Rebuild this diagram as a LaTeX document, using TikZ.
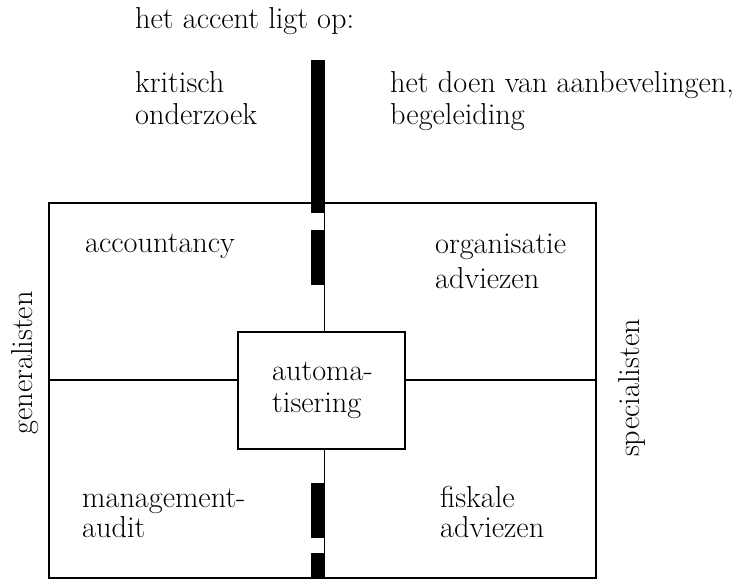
\documentclass[tikz,border=0pt]{standalone}
\newcommand{\lblfont}[1]{\fontsize{30.3}{#1}\selectfont}
\begin{document}
\begin{tikzpicture}[x=1pt,y=-1pt,
  lbl/.style={font=\lblfont{32}, inner sep=0pt, align=left, anchor=base west},
  side/.style={font=\lblfont{32}, inner sep=0pt, rotate=90},
  box/.style={draw, line width=1.3pt},
  thin/.style={line width=1pt},
  barseg/.style={fill=black, draw=none}]
\useasboundingbox (0,0) rectangle (741,580);
% outer frame
\draw[box] (49,203) rectangle (596,578);
\node[box, minimum width=167pt, minimum height=117pt, inner sep=0pt] (auto) at (321.5,390.5) {};
\node[lbl, font=\lblfont{32}] (autot) at (272,412) {automa-\\tisering};
% middle line
\coordinate (ml) at (49,380);
\coordinate (mr) at (596,380);
\draw[box] (ml) -- (auto.west |- ml);
\draw[box] (auto.east |- mr) -- (mr);
% accent bar
\coordinate (tA) at (324,60);
\coordinate (tB) at (324,578);
\draw[thin] (tA) -- (tA |- auto.north);
\draw[thin] (tB |- auto.south) -- (tB);
\fill[barseg] (311,60) rectangle (325,213);
\fill[barseg] (311,230) rectangle (325,285);
\fill[barseg] (311,483) rectangle (325,538);
\fill[barseg] (311,553) rectangle (325,578);
% texts
\node[lbl] (head) at (135,29) {het accent ligt op:};
\node[lbl] (krit) at (135,125) {kritisch\\onderzoek};
\node[lbl] (doen) at (390,125) {het doen van aanbevelingen,\\begeleiding};
\node[lbl] (acc) at (85,252) {accountancy};
\node[lbl, font=\lblfont{35}] (org) at (435,288) {organisatie\\adviezen};
\node[lbl, font=\lblfont{30}] (man) at (82,537) {management-\\audit};
\node[lbl, font=\lblfont{30}] (fis) at (440,537) {fiskale\\adviezen};
\node[side] (gen) at (25,363) {generalisten};
\node[side] (spec) at (632,388) {specialisten};
\end{tikzpicture}
\end{document}
